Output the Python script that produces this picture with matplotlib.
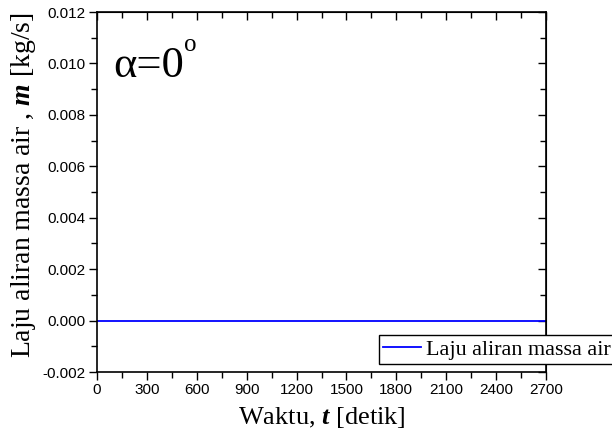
import numpy as np
import matplotlib
matplotlib.use("Agg")
import matplotlib.pyplot as plt

plt.rcParams['mathtext.fontset'] = 'custom'
plt.rcParams['mathtext.rm'] = 'Liberation Serif'
plt.rcParams['mathtext.it'] = 'Liberation Serif:italic'
plt.rcParams['mathtext.bf'] = 'Liberation Serif:bold'
plt.rcParams['mathtext.bfit'] = 'Liberation Serif:italic:bold'

# data
waktu = [0, 300, 600, 900, 1200, 1500, 1800, 2100, 2400, 2700]
laju_massa = [0.0, 0.0, 0.0, 0.0, 0.0, 0.0, 0.0, 0.0, 0.0, 0.0]
xticks = [0, 300, 600, 900, 1200, 1500, 1800, 2100, 2400, 2700]
yticks = [-0.002, 0.000, 0.002, 0.004, 0.006, 0.008, 0.010, 0.012]

fig = plt.figure(figsize=(6.12, 4.41), dpi=100)
ax = fig.add_axes([97/612, 1-372/441, 449/612, 360/441])

line, = ax.plot(waktu, laju_massa, color='#0000ff', lw=1.3, label='Laju aliran massa air')

xminor = np.arange(150, 2700, 300)
yminor = np.arange(-0.001, 0.012, 0.002)

ax.set_xlim(0, 2700)
ax.set_ylim(-0.002, 0.012)
ax.set_xticks(xticks)
ax.set_yticks(yticks)
ax.set_xticks(xminor, minor=True)
ax.set_yticks(yminor, minor=True)
ax.set_xticklabels([str(v) for v in xticks], fontfamily='Liberation Sans', fontsize=11)
ax.set_yticklabels(['%.3f' % v for v in yticks], fontfamily='Liberation Sans', fontsize=11)

ax.tick_params(which='both', direction='out', width=1, pad=2)
ax.tick_params(which='major', length=6)
ax.tick_params(which='minor', length=4)
for sp in ax.spines.values():
    sp.set_linewidth(1.2)

# top / right ticks point inward
ax2 = ax.secondary_xaxis('top')
ax2.set_xticks(xticks)
ax2.set_xticks(xminor, minor=True)
ax2.set_xticklabels([])
ax2.tick_params(which='both', direction='in', width=1)
ax2.tick_params(which='major', length=6)
ax2.tick_params(which='minor', length=4)
ax3 = ax.secondary_yaxis('right')
ax3.set_yticks(yticks)
ax3.set_yticks(yminor, minor=True)
ax3.set_yticklabels([])
ax3.tick_params(which='both', direction='in', width=1)
ax3.tick_params(which='major', length=6)
ax3.tick_params(which='minor', length=4)

ax.set_xlabel(r'Waktu, $\mathbfit{t}$ [detik]', fontfamily='Liberation Serif', fontsize=19, labelpad=6)
ax.set_ylabel(r'Laju aliran massa air , $\mathbfit{m}$ [kg/s]', fontfamily='Liberation Serif', fontsize=20)
ax.yaxis.set_label_coords(-0.131, 0.519)

ax.text(0.036, 0.819, 'α=0', transform=ax.transAxes, fontfamily='Liberation Serif', fontsize=32, va='baseline')
ax.text(0.193, 0.893, 'o', transform=ax.transAxes, fontfamily='Liberation Serif', fontsize=18, va='baseline')

leg = fig.legend(handles=[line], loc='upper left', bbox_to_anchor=(379/612, 1-335/441),
                 prop={'family': 'Liberation Serif', 'size': 15.9}, fancybox=False,
                 edgecolor='black', framealpha=1, borderpad=0.2, handlelength=1.7,
                 handletextpad=0.22, borderaxespad=0)
leg.get_frame().set_linewidth(1)

fig.savefig('out.png', dpi=100)
